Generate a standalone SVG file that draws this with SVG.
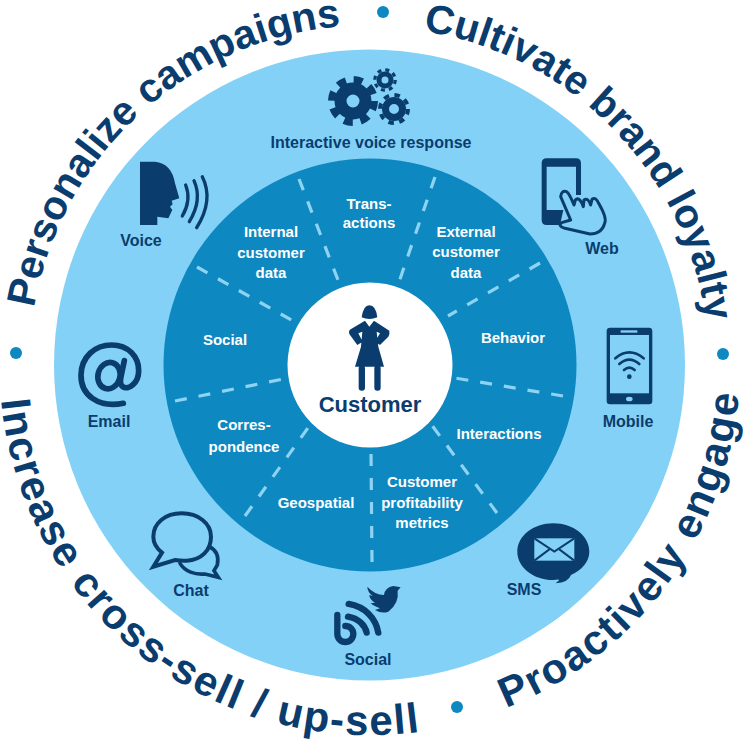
<svg xmlns="http://www.w3.org/2000/svg" width="743" height="740" viewBox="0 0 743 740">
<style>
text{font-family:"Liberation Sans",Arial,sans-serif;text-anchor:middle}
.ring{font-size:40.5px;font-weight:700;fill:#0a3d6e;text-anchor:start}
.low{font-size:42px;letter-spacing:1.7px}
.lab{font-size:16px;font-weight:700;fill:#0a3d6e}
.in{font-size:15px;font-weight:700;fill:#fff}
.nv{fill:#0a3d6e}
.ol{fill:none;stroke:#0a3d6e;stroke-linecap:round}
.lt{fill:#84d1f7}
.sp{stroke:#8fd3f3;stroke-width:3.2;stroke-dasharray:12 12;fill:none}
</style>
<defs>
<path id="a1" d="M34,308 A340,340 0 0 1 345,26"/>
<path id="a2" d="M423,31 A338,338 0 0 1 707,330"/>
<path id="a3" d="M1,400 A370.500,370.500 0 0 0 425,731"/>
<path id="a4" d="M506,708 A369,369 0 0 0 739,391"/>
</defs>
<g id="rings">
<circle cx="369.500" cy="365" r="315.500" fill="#84d1f7"/>
<circle cx="370" cy="365" r="206.500" fill="#0d88c0"/>
</g>
<g id="connectors">
<path class="sp" d="M197,267 L295,322"/>
<path class="sp" d="M299,179 L338,280"/>
<path class="sp" d="M435,177 L399,282"/>
<path class="sp" d="M540,263 L448,316"/>
<path class="sp" d="M563,396 L455,378"/>
<path class="sp" d="M497,513 L428,420"/>
<path class="sp" d="M372,562 L371,450"/>
<path class="sp" d="M245,516 L310,425"/>
<path class="sp" d="M175,401 L288,378"/>
</g>
<g id="customer">
<circle cx="370" cy="365" r="82.500" fill="#fff"/>
<g transform="translate(280,290) scale(.3333)" class="nv">
<path d="M245,82 Q250,46 268,46 Q288,46 292,82 Q268,92 245,82Z"/>
<path d="M255,92 L268,110 L282,92 L328,122 Q330,130 325,140 L300,165 L285,155 L300,130 L290,125 L295,170 L312,230 L225,230 L243,170 L247,125 L235,130 L248,155 L232,165 L208,132 Q205,122 212,118Z"/>
<rect x="236" y="226" width="19" height="76" rx="9"/>
<rect x="283" y="226" width="19" height="76" rx="9"/>
</g>
<text x="370" y="412" font-size="22" font-weight="700" fill="#0a3d6e">Customer</text>
</g>
<g id="ring-text">
<text class="ring"><textPath href="#a1">Personalize campaigns</textPath></text>
<text class="ring"><textPath href="#a2">Cultivate brand loyalty</textPath></text>
<text class="ring low"><textPath href="#a3">Increase cross-sell / up-sell</textPath></text>
<text class="ring low"><textPath href="#a4">Proactively engage</textPath></text>
<circle cx="383" cy="12" r="6" fill="#0d88c0"/>
<circle cx="723" cy="354" r="6" fill="#0d88c0"/>
<circle cx="457" cy="707" r="6" fill="#0d88c0"/>
<circle cx="16" cy="353" r="6" fill="#0d88c0"/>
</g>
<g id="ivr">
<g fill="none" stroke="#0a3d6e">
<circle cx="353" cy="101" r="12.500" stroke-width="12"/>
<circle cx="353" cy="101" r="21.500" stroke-width="7" stroke-dasharray="9 7.890"/>
<circle cx="394" cy="109" r="8.500" stroke-width="7"/>
<circle cx="394" cy="109" r="14" stroke-width="4" stroke-dasharray="5.500 5.500"/>
<circle cx="385" cy="80" r="6" stroke-width="5"/>
<circle cx="385" cy="80" r="10.200" stroke-width="3.200" stroke-dasharray="4 4.010"/>
</g>
<text class="lab" x="371" y="148">Interactive voice response</text>
</g>
<g id="web">
<g transform="translate(500,140) scale(.3333)">
<path class="nv" d="M140,55 H228 Q243,55 243,70 V165 H228 V80 H140 V210 H190 L180,255 H140 Q125,255 125,240 V70 Q125,55 140,55Z"/>
<path class="lt" stroke="#0a3d6e" stroke-width="9" stroke-linejoin="round" d="M182,170 Q184,150 200,155 Q208,160 222,195 L226,180 Q236,170 246,190 L250,200 L252,180 Q264,172 272,195 L276,178 Q288,170 296,190 Q322,235 314,250 Q305,282 270,282 L195,265 Q172,258 185,248 L212,240Z"/>
</g>
<text class="lab" x="602" y="254">Web</text>
</g>
<g id="mobile">
<g transform="translate(500,140) scale(.3333)">
<rect class="nv" x="320" y="563" width="137" height="230" rx="10"/>
<rect class="lt" x="330" y="585" width="117" height="175"/>
<rect class="lt" x="362" y="571" width="50" height="7"/>
<ellipse class="lt" cx="388" cy="777" rx="10" ry="7"/>
<circle class="nv" cx="388" cy="710" r="7"/>
<path class="ol" stroke-width="8" d="M346,655 Q388,620 431,655 M358,672 Q388,646 418,672 M372,690 Q388,676 404,690"/>
</g>
<text class="lab" x="628" y="427">Mobile</text>
</g>
<g id="voice">
<g transform="translate(60,150) scale(.3333)">
<path class="nv" d="M240,35 L285,35 Q335,40 345,100 L358,145 L335,152 L338,163 L330,170 L337,180 L325,205 L292,200 L292,225 L240,225Z"/>
<path class="ol" stroke-width="10" d="M377,105 Q395,150 367,198 M402,92 Q428,150 388,215 M427,80 Q462,150 410,233"/>
</g>
<text class="lab" x="141" y="246">Voice</text>
</g>
<g id="email">
<g transform="translate(60,150) scale(.3333)">
<path class="ol" stroke-width="17" stroke-linecap="butt" d="M190,760 C115,775 62,735 63,675 C64,620 105,585 155,585 C205,585 236,620 236,662 C236,700 205,722 188,710 C180,704 180,695 183,680 L193,632"/>
<ellipse class="ol" cx="147" cy="677" rx="33" ry="40" stroke-width="17" transform="rotate(15 147 677)"/>
</g>
<text class="lab" x="109" y="427">Email</text>
</g>
<g id="chat">
<g transform="translate(130,500) scale(.3333)">
<path class="ol" stroke-width="12" stroke-linejoin="miter" d="M96,158 L70,200 L135,180 Q155,183 170,182 C215,180 243,150 243,110 C243,70 205,40 155,40 C105,40 70,70 70,110 C70,130 80,145 96,158Z"/>
<path class="ol" stroke-width="11" stroke-linecap="butt" d="M238,140 C258,150 267,170 262,195 L252,212 L265,232 L225,222 C195,225 165,215 150,190"/>
</g>
<text class="lab" x="191" y="596">Chat</text>
</g>
<g id="social">
<g transform="translate(130,500) scale(.3333)">
<path class="nv" d="M712,260 Q735,285 762,285 Q765,262 790,258 L812,262 L803,272 Q808,310 775,335 Q755,342 735,330 L750,325 Q730,318 722,310 L735,308 Q718,298 718,285 L728,288 Q712,275 712,260Z"/>
<path class="ol" stroke-width="19" d="M622,345 V402 A24,24 0 1 0 646,378 M656,312 C705,320 738,355 745,398 M654,350 C685,355 705,375 710,398"/>
</g>
<text class="lab" x="368" y="665">Social</text>
</g>
<g id="sms">
<g transform="translate(490,510) scale(.3333)">
<path class="nv" d="M190,40 C250,40 298,78 298,125 C298,155 275,180 243,195 Q235,218 197,220 Q210,208 207,209 Q204,208 190,210 C130,210 82,172 82,125 C82,78 130,40 190,40Z"/>
<rect class="lt" x="133" y="85" width="120" height="67"/>
<path fill="none" stroke="#0a3d6e" stroke-width="6" d="M133,85 L193,125 L253,85 M133,152 L178,118 M253,152 L208,118"/>
</g>
<text class="lab" x="524" y="595">SMS</text>
</g>
<g id="segments">
<text class="in" x="369" y="209">Trans-</text>
<text class="in" x="369" y="228">actions</text>
<text class="in" x="466" y="237">External</text>
<text class="in" x="466" y="257">customer</text>
<text class="in" x="466" y="278">data</text>
<text class="in" x="271" y="237">Internal</text>
<text class="in" x="271" y="258">customer</text>
<text class="in" x="271" y="278">data</text>
<text class="in" x="513" y="343">Behavior</text>
<text class="in" x="225" y="345">Social</text>
<text class="in" x="499" y="439">Interactions</text>
<text class="in" x="244" y="430">Corres-</text>
<text class="in" x="244" y="452">pondence</text>
<text class="in" x="316" y="508">Geospatial</text>
<text class="in" x="422" y="487">Customer</text>
<text class="in" x="422" y="508">profitability</text>
<text class="in" x="422" y="528">metrics</text>
</g>
</svg>
